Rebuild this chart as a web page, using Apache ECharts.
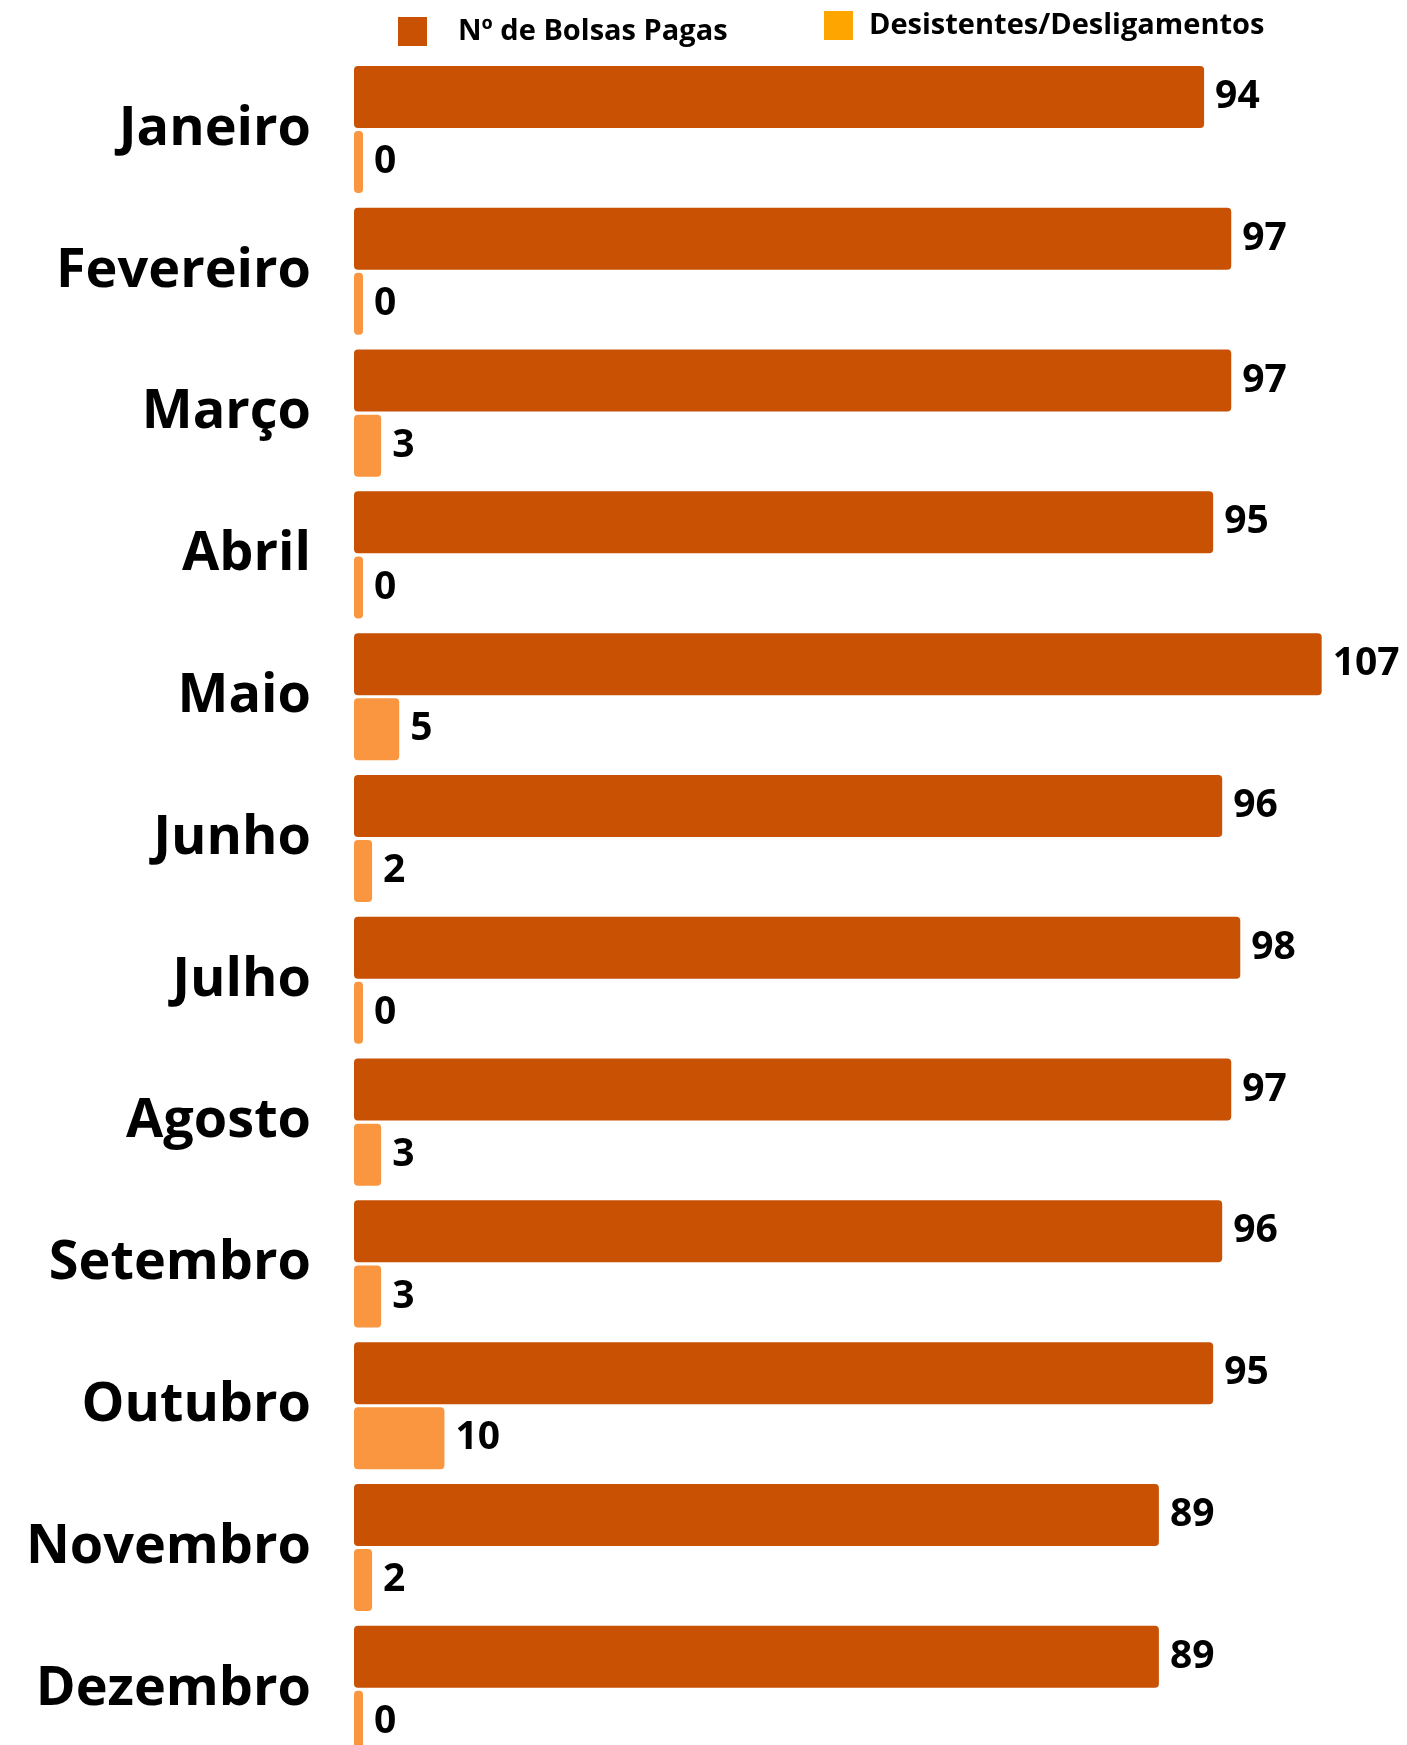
<!DOCTYPE html>
<html>
<head>
<meta charset="utf-8">
<script src="https://cdn.jsdelivr.net/npm/echarts@6/dist/echarts.min.js"></script>
<style>
html,body{margin:0;padding:0;background:#fff;overflow:hidden;}
#chart{width:1407px;height:1775px;}
</style>
</head>
<body>
<div id="chart"></div>
<script>
const months = ['Janeiro','Fevereiro','Março','Abril','Maio','Junho','Julho','Agosto','Setembro','Outubro','Novembro','Dezembro'];
const bolsasPagas = [94, 97, 97, 95, 107, 96, 98, 97, 96, 95, 89, 89];
const desistentes = [0, 0, 3, 0, 5, 2, 0, 3, 3, 10, 2, 0];
const seriesNames = ['Nº de Bolsas Pagas', 'Desistentes/Desligamentos'];

const FONT = 'Open Sans';
const chart = echarts.init(document.getElementById('chart'), null, {renderer: 'canvas'});

const labelStyle = {
  show: true,
  position: 'right',
  distance: 11,
  fontFamily: FONT,
  fontWeight: 'bold',
  fontSize: 39,
  color: '#000'
};

chart.setOption({
  animation: false,
  backgroundColor: '#ffffff',
  legend: [
    {
      data: [seriesNames[0]],
      left: 398, top: 17, padding: 0,
      itemWidth: 29, itemHeight: 29,
      icon: 'rect',
      textStyle: {fontFamily: FONT, fontWeight: 'bold', fontSize: 29, color: '#000', padding: [0, 0, 0, 26]}
    },
    {
      data: [{name: seriesNames[1], itemStyle: {color: '#FFA500'}}],
      left: 824, top: 11, padding: 0,
      itemWidth: 29, itemHeight: 29,
      icon: 'rect',
      textStyle: {fontFamily: FONT, fontWeight: 'bold', fontSize: 29, color: '#000', padding: [2, 0, 0, 11]}
    }
  ],
  grid: {left: 354, top: 58.6, width: 994.8, height: 1701.6, containLabel: false},
  xAxis: {
    type: 'value', min: 0, max: 110,
    show: false
  },
  yAxis: {
    type: 'category',
    data: months,
    inverse: true,
    axisLine: {show: false},
    axisTick: {show: false},
    axisLabel: {
      margin: 43,
      fontFamily: FONT,
      fontWeight: 'bold',
      fontSize: 54,
      color: '#000'
    }
  },
  series: [
    {
      name: seriesNames[0],
      type: 'bar',
      data: bolsasPagas,
      barWidth: 62,
      barGap: '5%',
      itemStyle: {color: '#C85104', borderRadius: 4},
      label: labelStyle
    },
    {
      name: seriesNames[1],
      type: 'bar',
      data: desistentes,
      barWidth: 62,
      barGap: '5%',
      barMinHeight: 9,
      itemStyle: {color: '#F9963F', borderRadius: 4},
      label: labelStyle
    }
  ]
});
</script>
</body>
</html>
